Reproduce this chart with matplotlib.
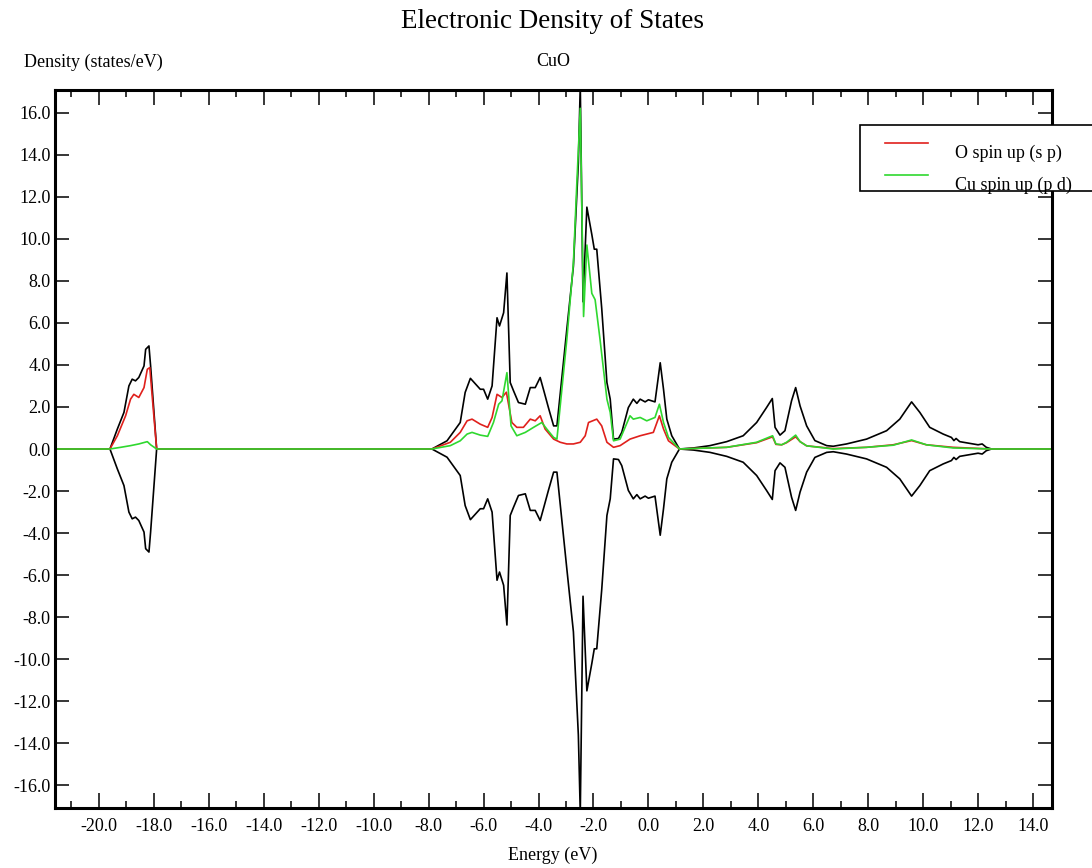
import matplotlib
matplotlib.use("Agg")
import matplotlib.pyplot as plt
from matplotlib.patches import Rectangle
from matplotlib.lines import Line2D
from matplotlib.ticker import MultipleLocator, FormatStrFormatter

plt.rcParams['font.family'] = ['Liberation Serif', 'DejaVu Serif']

# total DOS (spin up; spin down is the mirror image)
e_tot = [-21.6, -19.6, -19.33, -19.09, -18.91, -18.79, -18.67, -18.55, -18.36, -18.30, -18.18, -18.12, -17.90,
         -7.88, -7.33, -6.85, -6.67, -6.48, -6.12, -6.00, -5.85, -5.69, -5.51, -5.42, -5.27, -5.15, -5.03,
         -4.91, -4.73, -4.48, -4.30, -4.12, -3.94, -3.79, -3.64, -3.45, -3.33, -2.97, -2.73, -2.55, -2.48,
         -2.38, -2.24, -2.06, -1.97, -1.88, -1.70, -1.51, -1.39, -1.27, -1.09, -0.97, -0.73, -0.55, -0.42,
         -0.30, -0.12, 0.00, 0.24, 0.43, 0.55, 0.67, 0.85, 1.13,
         1.64, 2.24, 2.85, 3.45, 3.94, 4.30, 4.51, 4.61, 4.79, 4.97, 5.21, 5.36, 5.52, 5.76, 6.06, 6.49,
         6.73, 7.21, 7.94, 8.67, 9.15, 9.58, 9.88, 10.24, 10.73, 11.03, 11.12, 11.20, 11.33, 11.82, 12.00,
         12.15, 12.30, 12.49, 14.7]
dos_tot = [0, 0, 0.95, 1.74, 3.0, 3.32, 3.24, 3.4, 3.95, 4.74, 4.9, 3.95, 0,
           0, 0.39, 1.26, 2.69, 3.36, 2.84, 2.84, 2.37, 3.0, 6.24, 5.85, 6.48, 8.37, 3.16,
           2.77, 2.21, 2.13, 2.92, 2.92, 3.4, 2.69, 1.97, 1.10, 1.10, 5.69, 8.69, 13.6, 17.3,
           7.0, 11.5, 10.2, 9.5, 9.5, 6.7, 3.16, 2.37, 0.47, 0.5, 0.79, 1.97, 2.37, 2.17,
           2.37, 2.24, 2.34, 2.24, 4.1, 2.84, 1.42, 0.63, 0,
           0.05, 0.16, 0.35, 0.63, 1.26, 1.97, 2.4, 1.03, 0.66, 0.87, 2.29, 2.92, 2.05, 1.1, 0.4, 0.16,
           0.13, 0.24, 0.47, 0.87, 1.42, 2.24, 1.74, 1.03, 0.71, 0.55, 0.40, 0.50, 0.35, 0.24, 0.20,
           0.24, 0.08, 0, 0]

# O spin up (s p)
e_o = [-21.6, -19.6, -19.33, -19.03, -18.85, -18.73, -18.55, -18.36, -18.24, -18.15, -17.90,
       -7.88, -7.21, -6.85, -6.60, -6.42, -6.12, -5.85, -5.69, -5.51, -5.33, -5.17, -4.97, -4.79, -4.55,
       -4.30, -4.12, -3.94, -3.76, -3.45, -3.21, -2.97, -2.73, -2.48, -2.30, -2.18, -1.88, -1.70, -1.51,
       -1.27, -1.03, -0.67, -0.30, 0.18, 0.40, 0.55, 0.73, 1.13,
       2.85, 3.94, 4.52, 4.64, 4.85, 5.03, 5.36, 5.52, 5.76, 6.73, 7.94, 8.91, 9.58, 10.12, 11.09, 12.49, 14.7]
dos_o = [0, 0, 0.63, 1.58, 2.37, 2.6, 2.45, 2.92, 3.79, 3.87, 0,
         0, 0.32, 0.79, 1.34, 1.42, 1.18, 1.03, 1.5, 2.6, 2.45, 2.7, 1.26, 1.03, 1.03,
         1.42, 1.34, 1.58, 0.95, 0.47, 0.32, 0.24, 0.24, 0.32, 0.63, 1.26, 1.42, 1.1, 0.32,
         0.08, 0.16, 0.47, 0.63, 0.79, 1.58, 0.95, 0.39, 0,
         0.08, 0.3, 0.58, 0.22, 0.2, 0.3, 0.58, 0.35, 0.15, 0.02, 0.08, 0.2, 0.4, 0.2, 0.08, 0, 0]

# Cu spin up (p d)
e_cu = [-21.6, -19.6, -19.21, -18.85, -18.55, -18.24, -18.12, -17.90,
        -7.88, -7.21, -6.85, -6.60, -6.42, -6.12, -5.85, -5.64, -5.45, -5.33, -5.15, -5.00, -4.79, -4.48,
        -4.18, -3.88, -3.70, -3.45, -3.33, -2.97, -2.73, -2.60, -2.48, -2.36, -2.24, -2.06, -1.94, -1.76,
        -1.51, -1.39, -1.27, -1.03, -0.67, -0.55, -0.30, -0.06, 0.24, 0.40, 0.55, 0.73, 1.13,
        2.85, 3.94, 4.52, 4.64, 4.85, 5.03, 5.36, 5.52, 5.76, 6.73, 7.94, 8.91, 9.58, 10.12, 11.09, 12.49, 14.7]
dos_cu = [0, 0, 0.08, 0.16, 0.24, 0.35, 0.2, 0,
          0, 0.16, 0.39, 0.71, 0.79, 0.66, 0.6, 1.26, 2.13, 2.29, 3.63, 1.1, 0.63, 0.79,
          1.03, 1.26, 0.95, 0.55, 0.47, 5.2, 8.85, 12.8, 16.2, 6.3, 9.7, 7.4, 7.1, 5.2,
          2.37, 1.74, 0.39, 0.47, 1.58, 1.42, 1.5, 1.34, 1.5, 2.13, 1.26, 0.55, 0,
          0.08, 0.32, 0.63, 0.24, 0.2, 0.32, 0.66, 0.35, 0.15, 0, 0.08, 0.18, 0.43, 0.2, 0.05, 0, 0]

legend_labels = ["O spin up (s p)", "Cu spin up (p d)"]
red = "#e0201c"
green = "#2fd82f"

W, H = 1092, 868
fig = plt.figure(figsize=(W / 100, H / 100), dpi=100)
ax = fig.add_axes([55 / W, 1 - 808 / H, (1051.7 - 55) / W, (808 - 90) / H])

ax.plot(e_tot, dos_tot, color="black", lw=1.2)
ax.plot(e_tot, [-v for v in dos_tot], color="black", lw=1.2)
ax.plot(e_o, dos_o, color=red, lw=1.2)
ax.plot(e_cu, dos_cu, color=green, lw=1.2)

ax.set_xlim(-21.6, 14.68)
ax.set_ylim(-17.07, 17.07)
ax.xaxis.set_major_locator(MultipleLocator(2))
ax.xaxis.set_minor_locator(MultipleLocator(1))
ax.yaxis.set_major_locator(MultipleLocator(2))
ax.xaxis.set_major_formatter(FormatStrFormatter("%.1f"))
ax.yaxis.set_major_formatter(FormatStrFormatter("%.1f"))
ax.tick_params(axis="both", which="both", direction="in", top=True, right=True, width=1.1, labelsize=13)
ax.tick_params(axis="x", which="major", length=10.5, pad=7)
ax.tick_params(axis="x", which="minor", length=5)
ax.tick_params(axis="y", which="major", length=10, pad=3)
for s in ax.spines.values():
    s.set_linewidth(2.2)

fig.text(0.5064, 1 - 22 / H, "Electronic Density of States", ha="center", va="center", fontsize=19.5)
fig.text(24 / W, 1 - 62 / H, "Density (states/eV)", ha="left", va="center", fontsize=13)
fig.text(553 / W, 1 - 62 / H, "CuO", ha="center", va="center", fontsize=13)
fig.text(553 / W, 1 - 855 / H, "Energy (eV)", ha="center", va="center", fontsize=13)

# legend box, partly cut by the right edge like the original
fig.add_artist(Rectangle((860 / W, 1 - 191 / H), 240 / W, 66 / H, transform=fig.transFigure,
                         facecolor="white", edgecolor="black", lw=1.2, zorder=5))
for yy, col, lab in [(143, red, legend_labels[0]), (175, green, legend_labels[1])]:
    fig.add_artist(Line2D([885 / W, 928 / W], [1 - yy / H] * 2, transform=fig.transFigure,
                          color=col, lw=1.2, zorder=6))
    fig.text(955 / W, 1 - (yy + 15) / H, lab, ha="left", va="baseline", fontsize=13, zorder=7)

fig.savefig("out.png", dpi=100)
